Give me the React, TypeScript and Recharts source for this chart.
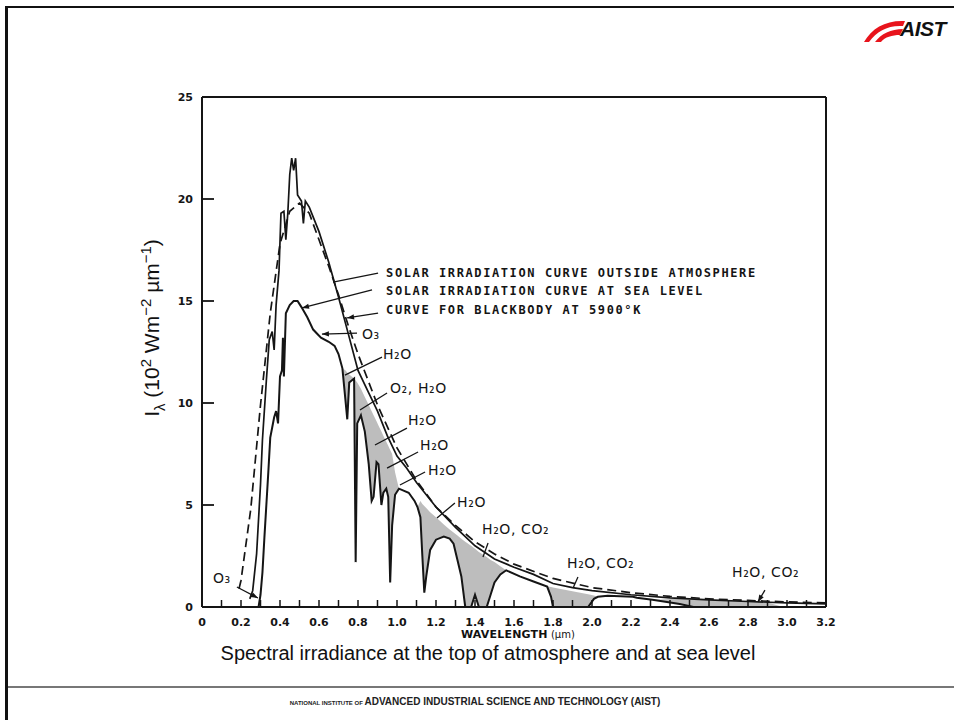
import React from 'react';
import { ComposedChart, Line, Area, XAxis, YAxis, ReferenceLine, ReferenceDot } from 'recharts';

// ---------- data ----------
const outsideWavelengths = [0.245, 0.26, 0.28, 0.30, 0.31, 0.33, 0.345, 0.36, 0.37, 0.38, 0.395, 0.405, 0.42, 0.43, 0.44, 0.45, 0.46, 0.47, 0.48, 0.49, 0.51, 0.52, 0.53, 0.55, 0.60, 0.65, 0.70, 0.75, 0.80, 0.85, 0.90, 0.95, 1.00, 1.05, 1.10, 1.20, 1.30, 1.40, 1.50, 1.60, 1.70, 1.80, 1.90, 2.00, 2.20, 2.40, 2.60, 2.80, 3.00, 3.20];
const outsideValues = [0.4, 0.8, 2.6, 6.0, 8.2, 11.1, 13.1, 13.5, 12.6, 14.8, 16.5, 19.3, 19.4, 18.0, 19.3, 21.2, 22.0, 21.4, 22.0, 20.2, 19.9, 18.8, 19.9, 19.6, 18.4, 16.9, 15.2, 13.4, 11.6, 10.6, 9.6, 8.4, 7.4, 6.8, 6.1, 4.9, 3.9, 3.0, 2.35, 1.95, 1.6, 1.15, 0.95, 0.8, 0.6, 0.45, 0.35, 0.27, 0.2, 0.15];

const blackbodyWavelengths = [0.19, 0.20, 0.25, 0.30, 0.35, 0.40, 0.45, 0.50, 0.55, 0.60, 0.65, 0.70, 0.75, 0.80, 0.90, 1.00, 1.10, 1.20, 1.30, 1.40, 1.50, 1.60, 1.80, 2.00, 2.20, 2.40, 2.60, 2.80, 3.00, 3.20];
const blackbodyValues = [0.9, 1.3, 4.8, 9.9, 14.4, 17.8, 19.4, 19.8, 19.3, 18.0, 16.7, 15.3, 13.8, 12.4, 9.9, 7.8, 6.2, 4.9, 4.0, 3.2, 2.6, 2.1, 1.4, 0.95, 0.7, 0.52, 0.4, 0.32, 0.25, 0.2];

const seaLevelWavelengths = [0.29, 0.30, 0.31, 0.32, 0.33, 0.34, 0.35, 0.36, 0.37, 0.38, 0.39, 0.40, 0.41, 0.415, 0.42, 0.43, 0.45, 0.47, 0.49, 0.51, 0.54, 0.57, 0.61, 0.65, 0.68, 0.70, 0.72, 0.735, 0.745, 0.755, 0.78, 0.788, 0.796, 0.815, 0.835, 0.855, 0.87, 0.88, 0.895, 0.905, 0.92, 0.93, 0.945, 0.955, 0.965, 0.975, 0.99, 1.01, 1.06, 1.09, 1.105, 1.12, 1.13, 1.14, 1.15, 1.17, 1.20, 1.24, 1.27, 1.29, 1.31, 1.33, 1.35, 1.38, 1.40, 1.42, 1.46, 1.48, 1.50, 1.53, 1.56, 1.63, 1.70, 1.77, 1.79, 1.80, 1.98, 2.01, 2.03, 2.08, 2.21, 2.23, 2.31, 2.45, 2.52, 2.70, 2.90, 2.98, 3.20];
const seaLevelValues = [0, 0.6, 1.7, 3.4, 5.0, 6.6, 8.3, 8.8, 9.3, 9.6, 9.0, 11.3, 11.6, 13.2, 11.3, 14.4, 14.8, 15.0, 15.0, 14.7, 14.2, 13.6, 13.2, 13.0, 12.8, 12.4, 11.7, 10.2, 9.2, 11.0, 11.2, 2.2, 9.0, 9.4, 8.6, 7.0, 5.2, 5.4, 7.1, 7.0, 5.0, 5.6, 5.8, 5.4, 1.2, 4.0, 5.5, 5.8, 5.6, 5.2, 4.9, 4.4, 2.5, 0.7, 1.5, 2.8, 3.3, 3.45, 3.35, 3.1, 2.3, 1.5, 0, 0, 0.6, 0, 0, 0.6, 1.2, 1.6, 1.8, 1.5, 1.25, 1.0, 0.5, 0, 0, 0.4, 0.5, 0.55, 0.5, 0.45, 0.35, 0.15, 0, 0, 0, 0, 0];
// upper edge of the grey absorption bands (null = no band at that point)
const absorptionTop = [null, null, null, null, null, null, null, null, null, null, null, null, null, null, null, null, null, null, null, null, null, null, null, null, null, null, 11.7, 11.6, 11.5, 11.4, 11.2, 11.1, 11.0, 10.7, 10.3, 9.9, 9.6, 9.4, 9.1, 8.9, 8.6, 8.4, 8.1, 7.9, 7.7, 7.5, 6.6, 5.8, null, null, 4.9, 5.2, 5.05, 4.95, 4.85, 4.65, 4.4, 4.05, 3.8, 3.65, 3.5, 3.35, 3.2, 3.0, 2.85, 2.7, 2.45, 2.3, 2.2, 2.0, 1.8, null, null, 1.0, 0.98, 0.96, 0.62, 0.56, 0.5, null, null, null, 0.35, 0.4, 0.37, 0.3, 0.22, 0, null];

const xMinorTicks = [0, 0.1, 0.2, 0.3, 0.4, 0.5, 0.6, 0.7, 0.8, 0.9, 1.0, 1.1, 1.2, 1.3, 1.4, 1.5, 1.6, 1.7, 1.8, 1.9, 2.0, 2.1, 2.2, 2.3, 2.4, 2.5, 2.6, 2.7, 2.8, 2.9, 3.0, 3.1, 3.2];
const xLabelTicks = [0, 0.2, 0.4, 0.6, 0.8, 1.0, 1.2, 1.4, 1.6, 1.8, 2.0, 2.2, 2.4, 2.6, 2.8, 3.0, 3.2];
const xTickLabels = ['0', '0.2', '0.4', '0.6', '0.8', '1.0', '1.2', '1.4', '1.6', '1.8', '2.0', '2.2', '2.4', '2.6', '2.8', '3.0', '3.2'];
const yTicks = [0, 5, 10, 15, 20, 25];
const yTickLabels = ['0', '5', '10', '15', '20', '25'];
const yRightTicks = [5, 10, 15, 20];

// annotation texts placed in data coordinates
const annotations = [
  { text: 'SOLAR IRRADIATION CURVE OUTSIDE ATMOSPHERE', x: 0.944, y: 16.2, kind: 'legend' },
  { text: 'SOLAR IRRADIATION CURVE AT SEA LEVEL', x: 0.944, y: 15.3, kind: 'legend' },
  { text: 'CURVE FOR BLACKBODY AT 5900°K', x: 0.944, y: 14.35, kind: 'legend' },
  { text: 'O₃', x: 0.82, y: 13.15, kind: 'chem' },
  { text: 'H₂O', x: 0.928, y: 12.15, kind: 'chem' },
  { text: 'O₂, H₂O', x: 0.964, y: 10.5, kind: 'chem' },
  { text: 'H₂O', x: 1.056, y: 8.9, kind: 'chem' },
  { text: 'H₂O', x: 1.118, y: 7.68, kind: 'chem' },
  { text: 'H₂O', x: 1.159, y: 6.45, kind: 'chem' },
  { text: 'H₂O', x: 1.308, y: 4.88, kind: 'chem' },
  { text: 'H₂O, CO₂', x: 1.436, y: 3.6, kind: 'chem' },
  { text: 'H₂O, CO₂', x: 1.872, y: 1.9, kind: 'chem' },
  { text: 'H₂O, CO₂', x: 2.718, y: 1.45, kind: 'chem' },
  { text: 'O₃', x: 0.056, y: 1.2, kind: 'chem' },
];
const leaders = [
  { x1: 0.903, y1: 16.37, x2: 0.672, y2: 15.93, arrow: false },
  { x1: 0.872, y1: 15.54, x2: 0.513, y2: 14.66, arrow: true },
  { x1: 0.903, y1: 14.41, x2: 0.744, y2: 14.17, arrow: true },
  { x1: 0.795, y1: 13.43, x2: 0.615, y2: 13.38, arrow: true },
  { x1: 0.923, y1: 12.25, x2: 0.733, y2: 11.37, arrow: false },
  { x1: 0.949, y1: 10.49, x2: 0.81, y2: 9.66, arrow: false },
  { x1: 1.051, y1: 8.77, x2: 0.887, y2: 7.94, arrow: false },
  { x1: 1.108, y1: 7.6, x2: 0.949, y2: 6.81, arrow: false },
  { x1: 1.144, y1: 6.62, x2: 1.015, y2: 5.98, arrow: false },
  { x1: 1.297, y1: 5.1, x2: 1.205, y2: 4.36, arrow: false },
  { x1: 1.467, y1: 3.14, x2: 1.441, y2: 2.45, arrow: false },
  { x1: 1.928, y1: 1.47, x2: 1.903, y2: 0.93, arrow: false },
  { x1: 2.887, y1: 0.83, x2: 2.851, y2: 0.25, arrow: true },
  { x1: 0.179, y1: 0.98, x2: 0.287, y2: 0.44, arrow: true },
];

// ---------- tables for the library ----------
const outsideTable = outsideWavelengths.map((w, i) => ({ w, v: outsideValues[i] }));
const blackbodyTable = blackbodyWavelengths.map((w, i) => ({ w, v: blackbodyValues[i] }));
const seaTable = seaLevelWavelengths.map((w, i) => ({
  w,
  v: seaLevelValues[i],
  band: [seaLevelValues[i], absorptionTop[i] == null ? seaLevelValues[i] : absorptionTop[i]],
}));

const INK = '#151515';
const TICK_FONT = "'DejaVu Sans', sans-serif";

const near = (a: number, b: number) => Math.abs(a - b) < 1e-6;

const BottomTick = (props: any) => {
  const { x, y, payload } = props;
  const idx = xLabelTicks.findIndex((t) => near(t, payload.value));
  return (
    <g>
      <line x1={x} y1={y} x2={x} y2={y - 7} stroke={INK} strokeWidth={1.5} />
      {idx >= 0 && (
        <text x={x} y={y + 19} textAnchor="middle" fontFamily={TICK_FONT} fontWeight="bold" fontSize={11} fill={INK}>
          {xTickLabels[idx]}
        </text>
      )}
    </g>
  );
};

const TopTick = (props: any) => {
  const { x, y } = props;
  return <line x1={x} y1={y} x2={x} y2={y + 7} stroke={INK} strokeWidth={1.5} />;
};

const LeftTick = (props: any) => {
  const { x, y, payload } = props;
  const idx = yTicks.findIndex((t) => near(t, payload.value));
  return (
    <g>
      <line x1={x} y1={y} x2={x + 12} y2={y} stroke={INK} strokeWidth={1.8} />
      <text x={x - 9} y={y + 4} textAnchor="end" fontFamily={TICK_FONT} fontWeight="bold" fontSize={11} fill={INK}>
        {yTickLabels[idx]}
      </text>
    </g>
  );
};

const RightTick = (props: any) => {
  const { x, y } = props;
  return <line x1={x} y1={y} x2={x - 13} y2={y} stroke={INK} strokeWidth={1.8} />;
};

const LeaderShape = (arrow: boolean) => (p: any) => {
  const { x1, y1, x2, y2 } = p;
  const ang = Math.atan2(y2 - y1, x2 - x1);
  const L = 7;
  const W = 2.6;
  const bx = x2 - L * Math.cos(ang);
  const by = y2 - L * Math.sin(ang);
  const nx = -Math.sin(ang) * W;
  const ny = Math.cos(ang) * W;
  return (
    <g>
      <line x1={x1} y1={y1} x2={x2} y2={y2} stroke={INK} strokeWidth={1.3} />
      {arrow && <polygon points={`${x2},${y2} ${bx + nx},${by + ny} ${bx - nx},${by - ny}`} fill={INK} />}
    </g>
  );
};

const annLabel = (text: string, kind: string) => (p: any) => {
  const vb = p.viewBox || {};
  if (kind === 'legend') {
    return (
      <text x={vb.x} y={vb.y} fontFamily="'DejaVu Sans Mono', monospace" fontWeight="bold" fontSize={12} letterSpacing={1.6} fill={INK}>
        {text}
      </text>
    );
  }
  return (
    <text x={vb.x} y={vb.y} fontFamily="'DejaVu Sans', sans-serif" fontSize={14} letterSpacing={0.6} fill={INK}>
      {text}
    </text>
  );
};

const abs = (s: React.CSSProperties): React.CSSProperties => ({ position: 'absolute', ...s });

export default function App() {
  return (
    <div style={abs({ left: 0, top: 0, width: 954, height: 720, background: '#fff', overflow: 'hidden' })}>
      {/* slide frame */}
      <div style={abs({ left: 5, top: 6, width: 949, height: 2, background: '#111' })} />
      <div style={abs({ left: 5, top: 6, width: 3, height: 714, background: '#111' })} />
      <div style={abs({ left: 8, top: 686, width: 946, height: 2, background: '#777' })} />

      {/* AIST logo */}
      <svg style={abs({ left: 862, top: 16, width: 44, height: 28 })} viewBox="0 0 44 28">
        <path d="M2 26 C 10 12, 24 4, 43 5 L 41 10 C 26 9, 15 15, 7 26 Z" fill="#e8141c" />
        <path d="M13 26 C 19 18, 29 13, 41 13 L 38 19 C 30 19, 23 21, 19 26 Z" fill="#e8141c" />
      </svg>
      <div style={abs({ left: 900, top: 17, lineHeight: '24px', fontFamily: "'Liberation Sans', Arial, sans-serif", fontWeight: 'bold', fontStyle: 'italic', fontSize: 21, color: '#111', letterSpacing: -0.5, whiteSpace: 'nowrap' })}>
        AIST
      </div>

      <ComposedChart width={954} height={720} margin={{ top: 87, right: 118, bottom: 83, left: 142 }} style={{ position: 'absolute', left: 0, top: 0 }}>
        <XAxis
          type="number"
          dataKey="w"
          domain={[0, 3.2]}
          ticks={xMinorTicks}
          interval={0}
          tickSize={0}
          tickMargin={0}
          tickLine={false}
          height={30}
          axisLine={{ stroke: INK, strokeWidth: 2 }}
          tick={<BottomTick />}
        />
        <XAxis
          xAxisId="top"
          orientation="top"
          type="number"
          domain={[0, 3.2]}
          ticks={xMinorTicks}
          interval={0}
          tickSize={0}
          tickMargin={0}
          tickLine={false}
          height={10}
          axisLine={{ stroke: INK, strokeWidth: 2 }}
          tick={<TopTick />}
        />
        <YAxis
          type="number"
          domain={[0, 25]}
          ticks={yTicks}
          interval={0}
          tickSize={0}
          tickMargin={0}
          tickLine={false}
          width={60}
          axisLine={{ stroke: INK, strokeWidth: 2 }}
          tick={<LeftTick />}
        />
        <YAxis
          yAxisId="r"
          orientation="right"
          type="number"
          domain={[0, 25]}
          ticks={yRightTicks}
          interval={0}
          tickSize={0}
          tickMargin={0}
          tickLine={false}
          width={10}
          axisLine={{ stroke: INK, strokeWidth: 2 }}
          tick={<RightTick />}
        />

        <Area data={seaTable} dataKey="band" type="linear" stroke="none" fill="#bdbdbd" fillOpacity={1} isAnimationActive={false} />
        <Line data={blackbodyTable} dataKey="v" type="linear" stroke={INK} strokeWidth={1.7} strokeDasharray="9 5" dot={false} isAnimationActive={false} />
        <Line data={outsideTable} dataKey="v" type="linear" stroke={INK} strokeWidth={1.7} dot={false} isAnimationActive={false} />
        <Line data={seaTable} dataKey="v" type="linear" stroke={INK} strokeWidth={2} dot={false} isAnimationActive={false} />

        {leaders.map((l, i) => (
          <ReferenceLine key={`l${i}`} segment={[{ x: l.x1, y: l.y1 }, { x: l.x2, y: l.y2 }]} shape={LeaderShape(l.arrow)} />
        ))}
        {annotations.map((a, i) => (
          <ReferenceDot key={`a${i}`} x={a.x} y={a.y} r={0} fill="none" stroke="none" label={annLabel(a.text, a.kind)} />
        ))}
      </ComposedChart>

      {/* y axis title */}
      <div
        style={abs({
          left: 153,
          top: 328,
          transform: 'translate(-50%, -50%) rotate(-90deg)',
          whiteSpace: 'nowrap',
          lineHeight: '24px',
          fontFamily: "'Liberation Sans', Arial, sans-serif",
          fontSize: 21,
          color: '#111',
        })}
      >
        I<sub style={{ fontSize: 15 }}>λ</sub> (10<sup style={{ fontSize: 15 }}>2</sup> Wm<sup style={{ fontSize: 15 }}>−2</sup> µm<sup style={{ fontSize: 15 }}>−1</sup>)
      </div>

      {/* x axis title */}
      <div style={abs({ left: 461, top: 627, height: 12, lineHeight: '12px', whiteSpace: 'nowrap', fontFamily: "'DejaVu Sans', sans-serif", color: '#111' })}>
        <span style={{ fontWeight: 'bold', fontSize: 11, letterSpacing: 0.2, lineHeight: '12px' }}>WAVELENGTH</span>
        <span style={{ fontSize: 10, lineHeight: '12px' }}> (µm)</span>
      </div>

      {/* caption */}
      <div style={abs({ left: 0, width: 976, top: 643, lineHeight: '20px', textAlign: 'center', fontFamily: "'Liberation Sans', Arial, sans-serif", fontSize: 20, color: '#111' })}>
        Spectral irradiance at the top of atmosphere and at sea level
      </div>

      {/* footer */}
      <div style={abs({ left: 0, width: 950, top: 694, lineHeight: '12px', textAlign: 'center', fontFamily: "'Liberation Sans', Arial, sans-serif", color: '#222', whiteSpace: 'nowrap' })}>
        <span style={{ fontSize: 6, fontWeight: 'bold' }}>NATIONAL INSTITUTE OF </span>
        <span style={{ fontSize: 10, fontWeight: 'bold' }}>ADVANCED INDUSTRIAL SCIENCE AND TECHNOLOGY (AIST)</span>
      </div>
    </div>
  );
}
